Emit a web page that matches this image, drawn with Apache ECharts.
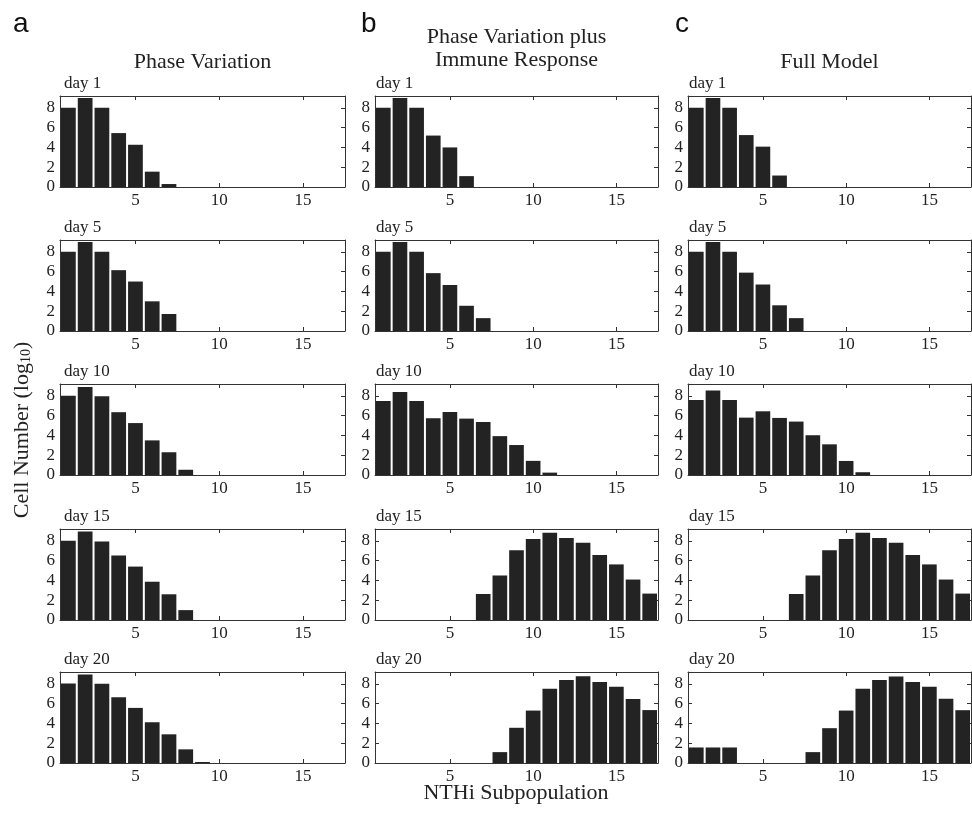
<!DOCTYPE html>
<html>
<head>
<meta charset="utf-8">
<script src="https://cdn.jsdelivr.net/npm/echarts@6/dist/echarts.min.js"></script>
<style>
  html, body { margin: 0; padding: 0; background: #fff; }
  #chart { width: 972px; height: 814px; }
</style>
</head>
<body>
<div id="chart"></div>
<script>
// categories / labels
var subpops = ['1','2','3','4','5','6','7','8','9','10','11','12','13','14','15','16','17'];
var xTickValues = ['5', '10', '15'];
var yTickStep = 2;
var yMax = 9.2;
var dayLabels = ['day 1', 'day 5', 'day 10', 'day 15', 'day 20'];
var columnTitles = ['Phase Variation', 'Phase Variation plus\nImmune Response', 'Full Model'];
var panelLetters = ['a', 'b', 'c'];

// a: phase variation
var pvDay1  = [8.0, 9.0, 8.0, 5.45, 4.27, 1.55, 0.3, 0, 0, 0, 0, 0, 0, 0, 0, 0, 0];
var pvDay5  = [8.0, 9.0, 8.0, 6.15, 5.0, 3.0, 1.72, 0, 0, 0, 0, 0, 0, 0, 0, 0, 0];
var pvDay10 = [8.0, 8.9, 7.96, 6.35, 5.25, 3.5, 2.3, 0.53, 0, 0, 0, 0, 0, 0, 0, 0, 0];
var pvDay15 = [8.0, 8.94, 7.93, 6.52, 5.4, 3.87, 2.6, 1.0, 0, 0, 0, 0, 0, 0, 0, 0, 0];
var pvDay20 = [8.05, 8.95, 8.0, 6.65, 5.57, 4.12, 2.9, 1.38, 0.1, 0, 0, 0, 0, 0, 0, 0, 0];

// b: phase variation plus immune response
var irDay1  = [8.0, 9.0, 8.0, 5.2, 4.0, 1.1, 0, 0, 0, 0, 0, 0, 0, 0, 0, 0, 0];
var irDay5  = [8.0, 9.0, 8.0, 5.85, 4.65, 2.55, 1.3, 0, 0, 0, 0, 0, 0, 0, 0, 0, 0];
var irDay10 = [7.48, 8.4, 7.48, 5.74, 6.37, 5.7, 5.36, 3.93, 3.03, 1.43, 0.24, 0, 0, 0, 0, 0, 0];
var irDay15 = [0, 0, 0, 0, 0, 0, 2.63, 4.5, 7.05, 8.18, 8.82, 8.3, 7.8, 6.58, 5.62, 4.09, 2.67];
var irDay20 = [0, 0, 0, 0, 0, 0, 0, 1.1, 3.56, 5.3, 7.5, 8.38, 8.77, 8.2, 7.7, 6.48, 5.35];

// c: full model
var fmDay1  = [8.0, 9.0, 8.0, 5.25, 4.08, 1.16, 0, 0, 0, 0, 0, 0, 0, 0, 0, 0, 0];
var fmDay5  = [8.0, 9.0, 8.0, 5.9, 4.7, 2.6, 1.3, 0, 0, 0, 0, 0, 0, 0, 0, 0, 0];
var fmDay10 = [7.58, 8.54, 7.58, 5.8, 6.44, 5.77, 5.4, 4.02, 3.1, 1.42, 0.28, 0, 0, 0, 0, 0, 0];
var fmDay15 = [0, 0, 0, 0, 0, 0, 2.63, 4.5, 7.05, 8.18, 8.82, 8.3, 7.8, 6.58, 5.62, 4.09, 2.67];
var fmDay20 = [1.57, 1.57, 1.57, 0, 0, 0, 0, 1.1, 3.52, 5.3, 7.5, 8.4, 8.75, 8.2, 7.7, 6.5, 5.34];

var panels = [
  [pvDay1, pvDay5, pvDay10, pvDay15, pvDay20],
  [irDay1, irDay5, irDay10, irDay15, irDay20],
  [fmDay1, fmDay5, fmDay10, fmDay15, fmDay20]
];

// layout
var colLeft = [60, 375, 688];
var colWidth = [285, 283, 283];
var rowTop = [96, 240, 384, 529, 672];
var panelHeight = 91;
var serif = 'Liberation Serif';
var ink = '#222';

function showTick(i, v) {
  return xTickValues.indexOf(v) >= 0;
}

var grid = [], xAxis = [], yAxis = [], series = [], graphic = [];

for (var c = 0; c < 3; c++) {
  for (var r = 0; r < 5; r++) {
    var g = grid.length;
    grid.push({ left: colLeft[c], top: rowTop[r], width: colWidth[c], height: panelHeight });

    var lineStyle = { color: '#333', width: 1 };
    xAxis.push({
      type: 'category', gridIndex: g, data: subpops, position: 'bottom',
      axisLine: { show: true, onZero: false, lineStyle: lineStyle },
      axisTick: { show: true, inside: true, length: 4, alignWithLabel: true, interval: showTick, lineStyle: lineStyle },
      axisLabel: { interval: showTick, fontFamily: serif, fontSize: 17, color: ink, margin: 5 },
      splitLine: { show: false }
    });
    xAxis.push({
      type: 'category', gridIndex: g, data: subpops, position: 'top',
      axisLine: { show: true, onZero: false, lineStyle: lineStyle },
      axisTick: { show: true, inside: true, length: 4, alignWithLabel: true, interval: showTick, lineStyle: lineStyle },
      axisLabel: { show: false },
      splitLine: { show: false }
    });
    yAxis.push({
      type: 'value', gridIndex: g, min: 0, max: yMax, interval: yTickStep, position: 'left',
      axisLine: { show: true, onZero: false, lineStyle: lineStyle },
      axisTick: { show: true, inside: true, length: 4, lineStyle: lineStyle },
      axisLabel: { showMaxLabel: false, fontFamily: serif, fontSize: 17, color: ink, margin: 5 },
      splitLine: { show: false }
    });
    yAxis.push({
      type: 'value', gridIndex: g, min: 0, max: yMax, interval: yTickStep, position: 'right',
      axisLine: { show: true, onZero: false, lineStyle: lineStyle },
      axisTick: { show: true, inside: true, length: 4, lineStyle: lineStyle },
      axisLabel: { show: false },
      splitLine: { show: false }
    });
    series.push({
      type: 'bar',
      xAxisIndex: g * 2,
      yAxisIndex: g * 2,
      data: panels[c][r],
      barCategoryGap: '12%',
      itemStyle: { color: '#232323' },
      silent: true
    });

    graphic.push({
      type: 'text', left: colLeft[c] + (c === 0 ? 4 : 1), top: rowTop[r] - 21,
      style: { text: dayLabels[r], font: '17px "Liberation Serif"', fill: ink }
    });
  }

  // column titles
  var cx = colLeft[c] + colWidth[c] / 2;
  graphic.push({
    type: 'text', x: cx, y: c === 1 ? 49 : 62,
    style: {
      text: columnTitles[c], font: '22px "Liberation Serif"', fill: ink,
      align: 'center', verticalAlign: 'middle', lineHeight: 23
    }
  });
}

// panel letters
var letterX = [13, 361, 675];
for (var k = 0; k < 3; k++) {
  graphic.push({
    type: 'text', x: letterX[k], y: 24,
    style: { text: panelLetters[k], font: '28px "Liberation Sans"', fill: '#111', verticalAlign: 'middle' }
  });
}

// axis titles
graphic.push({
  type: 'text', x: 22, y: 430, rotation: Math.PI / 2,
  style: {
    text: '{m|Cell Number (log}{s|10}{m|)}',
    align: 'center', verticalAlign: 'middle',
    rich: {
      m: { fontFamily: serif, fontSize: 22, fill: ink },
      s: { fontFamily: serif, fontSize: 14, fill: ink, padding: [9, 0, 0, 0] }
    }
  }
});
graphic.push({
  type: 'text', x: 516, y: 793,
  style: { text: 'NTHi Subpopulation', font: '22px "Liberation Serif"', fill: ink, align: 'center', verticalAlign: 'middle' }
});

var chart = echarts.init(document.getElementById('chart'));
chart.setOption({
  animation: false,
  backgroundColor: '#fff',
  grid: grid,
  xAxis: xAxis,
  yAxis: yAxis,
  series: series,
  graphic: graphic
});
</script>
</body>
</html>
